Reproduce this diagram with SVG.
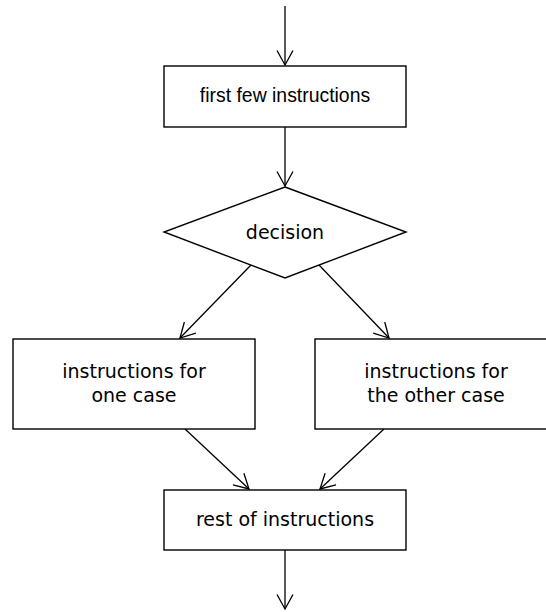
<svg xmlns="http://www.w3.org/2000/svg" width="546" height="612" viewBox="0 0 546 612">
<style>
.box{fill:#fff;stroke:#000;stroke-width:1.4}
.t{font-family:"DejaVu Sans",sans-serif;font-size:19px;fill:#000;text-anchor:middle}
.ta{font-family:"Liberation Sans",Arial,sans-serif;font-size:19.4px;fill:#000;text-anchor:middle}
.c{fill:none;stroke:#000;stroke-width:1.3}
</style>
<defs>
<marker id="ah" markerUnits="userSpaceOnUse" markerWidth="40" markerHeight="40" refX="0" refY="0" orient="auto" overflow="visible" viewBox="-20 -20 40 40">
<path d="M-14.5,-8 L0,0 L-14.5,8" fill="none" stroke="#000" stroke-width="1.3"/>
</marker>
</defs>
<rect width="546" height="612" fill="#fff"/>
<g id="connectors">
<line class="c" x1="285" y1="6" x2="285" y2="65" marker-end="url(#ah)"/>
<line class="c" x1="285" y1="127" x2="285" y2="186" marker-end="url(#ah)"/>
<line class="c" x1="251" y1="265" x2="180" y2="338" marker-end="url(#ah)"/>
<line class="c" x1="319" y1="265" x2="389" y2="338" marker-end="url(#ah)"/>
<line class="c" x1="185" y1="429" x2="249" y2="489" marker-end="url(#ah)"/>
<line class="c" x1="384" y1="429" x2="320" y2="489" marker-end="url(#ah)"/>
<line class="c" x1="285" y1="550" x2="285" y2="609" marker-end="url(#ah)"/>
</g>
<g id="first">
<rect class="box" x="164" y="66" width="242" height="61"/>
<text class="ta" x="285" y="102.3">first few instructions</text>
</g>
<g id="decision">
<polygon class="box" points="285,187 406,232 285,278 164,232"/>
<text class="t" x="285" y="239">decision</text>
</g>
<g id="onecase">
<rect class="box" x="13" y="339" width="242" height="90"/>
<text class="t" x="134" y="378.3">instructions for</text>
<text class="t" x="134" y="402.3">one case</text>
</g>
<g id="othercase">
<rect class="box" x="315" y="339" width="242" height="90"/>
<text class="t" x="436" y="378.3">instructions for</text>
<text class="t" x="436" y="402.3">the other case</text>
</g>
<g id="rest">
<rect class="box" x="164" y="490" width="242" height="60"/>
<text class="t" x="285" y="526">rest of instructions</text>
</g>
</svg>
